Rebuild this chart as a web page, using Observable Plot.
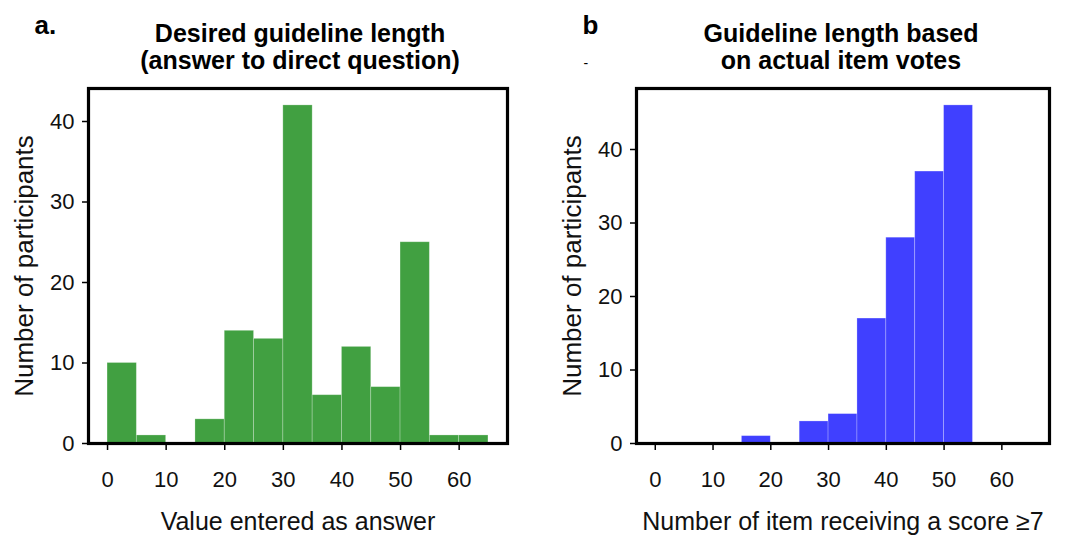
<!DOCTYPE html>
<html><head><meta charset="utf-8">
<script src="https://cdn.jsdelivr.net/npm/d3@7"></script>
<script src="https://cdn.jsdelivr.net/npm/@observablehq/plot@0.6"></script>
<style>
body{margin:0;background:#fff;}
#wrap{display:flex;width:1065px;height:536px;overflow:hidden;}
svg{overflow:visible;}
</style>
</head><body><div id="wrap"></div>
<script>
// ---- data ----
const binStarts = [0, 5, 10, 15, 20, 25, 30, 35, 40, 45, 50, 55, 60];
const binWidth = 5;
const directCounts = [10, 1, 0, 3, 14, 13, 42, 6, 12, 7, 25, 1, 1];
const votesCounts  = [0, 0, 0, 1, 0, 3, 4, 17, 28, 37, 46, 0, 0];
const xTicks = [0, 10, 20, 30, 40, 50, 60];
const yTicks = [0, 10, 20, 30, 40];
const titleA = "Desired guideline length\n(answer to direct question)";
const titleB = "Guideline length based\non actual item votes";
const xLabelA = "Value entered as answer";
const xLabelB = "Number of item receiving a score \u22657";
const yLabel = "Number of participants";

const font = "'Liberation Sans', Arial, Helvetica, sans-serif";

function panel({counts, color, title, xLabel, letter, extra, width, marginLeft, marginRight, yMax, titleDx}) {
  const bins = binStarts.map((s, i) => ({x1: s, x2: s + binWidth, y: counts[i]})).filter(d => d.y > 0);
  const marks = [
    Plot.rectY(bins, {x1: "x1", x2: "x2", y: "y", fill: color, stroke: "#ffffff", strokeOpacity: 0.3, strokeWidth: 0.8, insetLeft: 0, insetRight: 0}),
    Plot.axisX({ticks: xTicks, tickSize: 7, tickPadding: 21, fontSize: 22, label: null, strokeWidth: 1.5, fill: "#111"}),
    Plot.axisY({ticks: yTicks, tickSize: 6, tickPadding: 8, fontSize: 22, label: null, strokeWidth: 1.5, fill: "#111"}),
    Plot.frame({stroke: "black", strokeWidth: 3.2}),
    Plot.text([title], {text: d => d, frameAnchor: "top", dx: titleDx, dy: -20, lineAnchor: "bottom", lineHeight: 1.065, fontSize: 25, fontWeight: "bold", fill: "black"}),
    Plot.text([xLabel], {text: d => d, frameAnchor: "bottom", dy: 86, lineAnchor: "bottom", fontSize: 25, fill: "#111"}),
    Plot.text([yLabel], {text: d => d, frameAnchor: "left", dx: -56, rotate: -90, textAnchor: "middle", lineAnchor: "bottom", fontSize: 26, fill: "#111"}),
    Plot.text([letter], {text: d => d, frameAnchor: "top-left", dx: -54, dy: -55, textAnchor: "start", lineAnchor: "bottom", fontSize: 26, fontWeight: "bold", fill: "black"})
  ];
  if (extra) marks.push(Plot.text([extra], {text: d => d, frameAnchor: "top-left", dx: -53, dy: -21, textAnchor: "start", lineAnchor: "bottom", fontSize: 14, fill: "black"}));
  return Plot.plot({
    width, height: 536,
    marginLeft, marginRight, marginTop: 88, marginBottom: 93,
    style: {fontFamily: font, background: "white", color: "black"},
    x: {domain: [-3.25, 68.25]},
    y: {domain: [0, yMax]},
    marks
  });
}

const wrap = document.getElementById("wrap");
wrap.append(panel({counts: directCounts, color: "#41a041", title: titleA, xLabel: xLabelA, letter: "a.", width: 530, marginLeft: 88, marginRight: 23, yMax: 44.1, titleDx: 2}));
wrap.append(panel({counts: votesCounts, color: "#4040ff", title: titleB, xLabel: xLabelB, letter: "b", extra: "-", width: 535, marginLeft: 106, marginRight: 16, yMax: 48.3, titleDx: -2}));
</script>
</body></html>
